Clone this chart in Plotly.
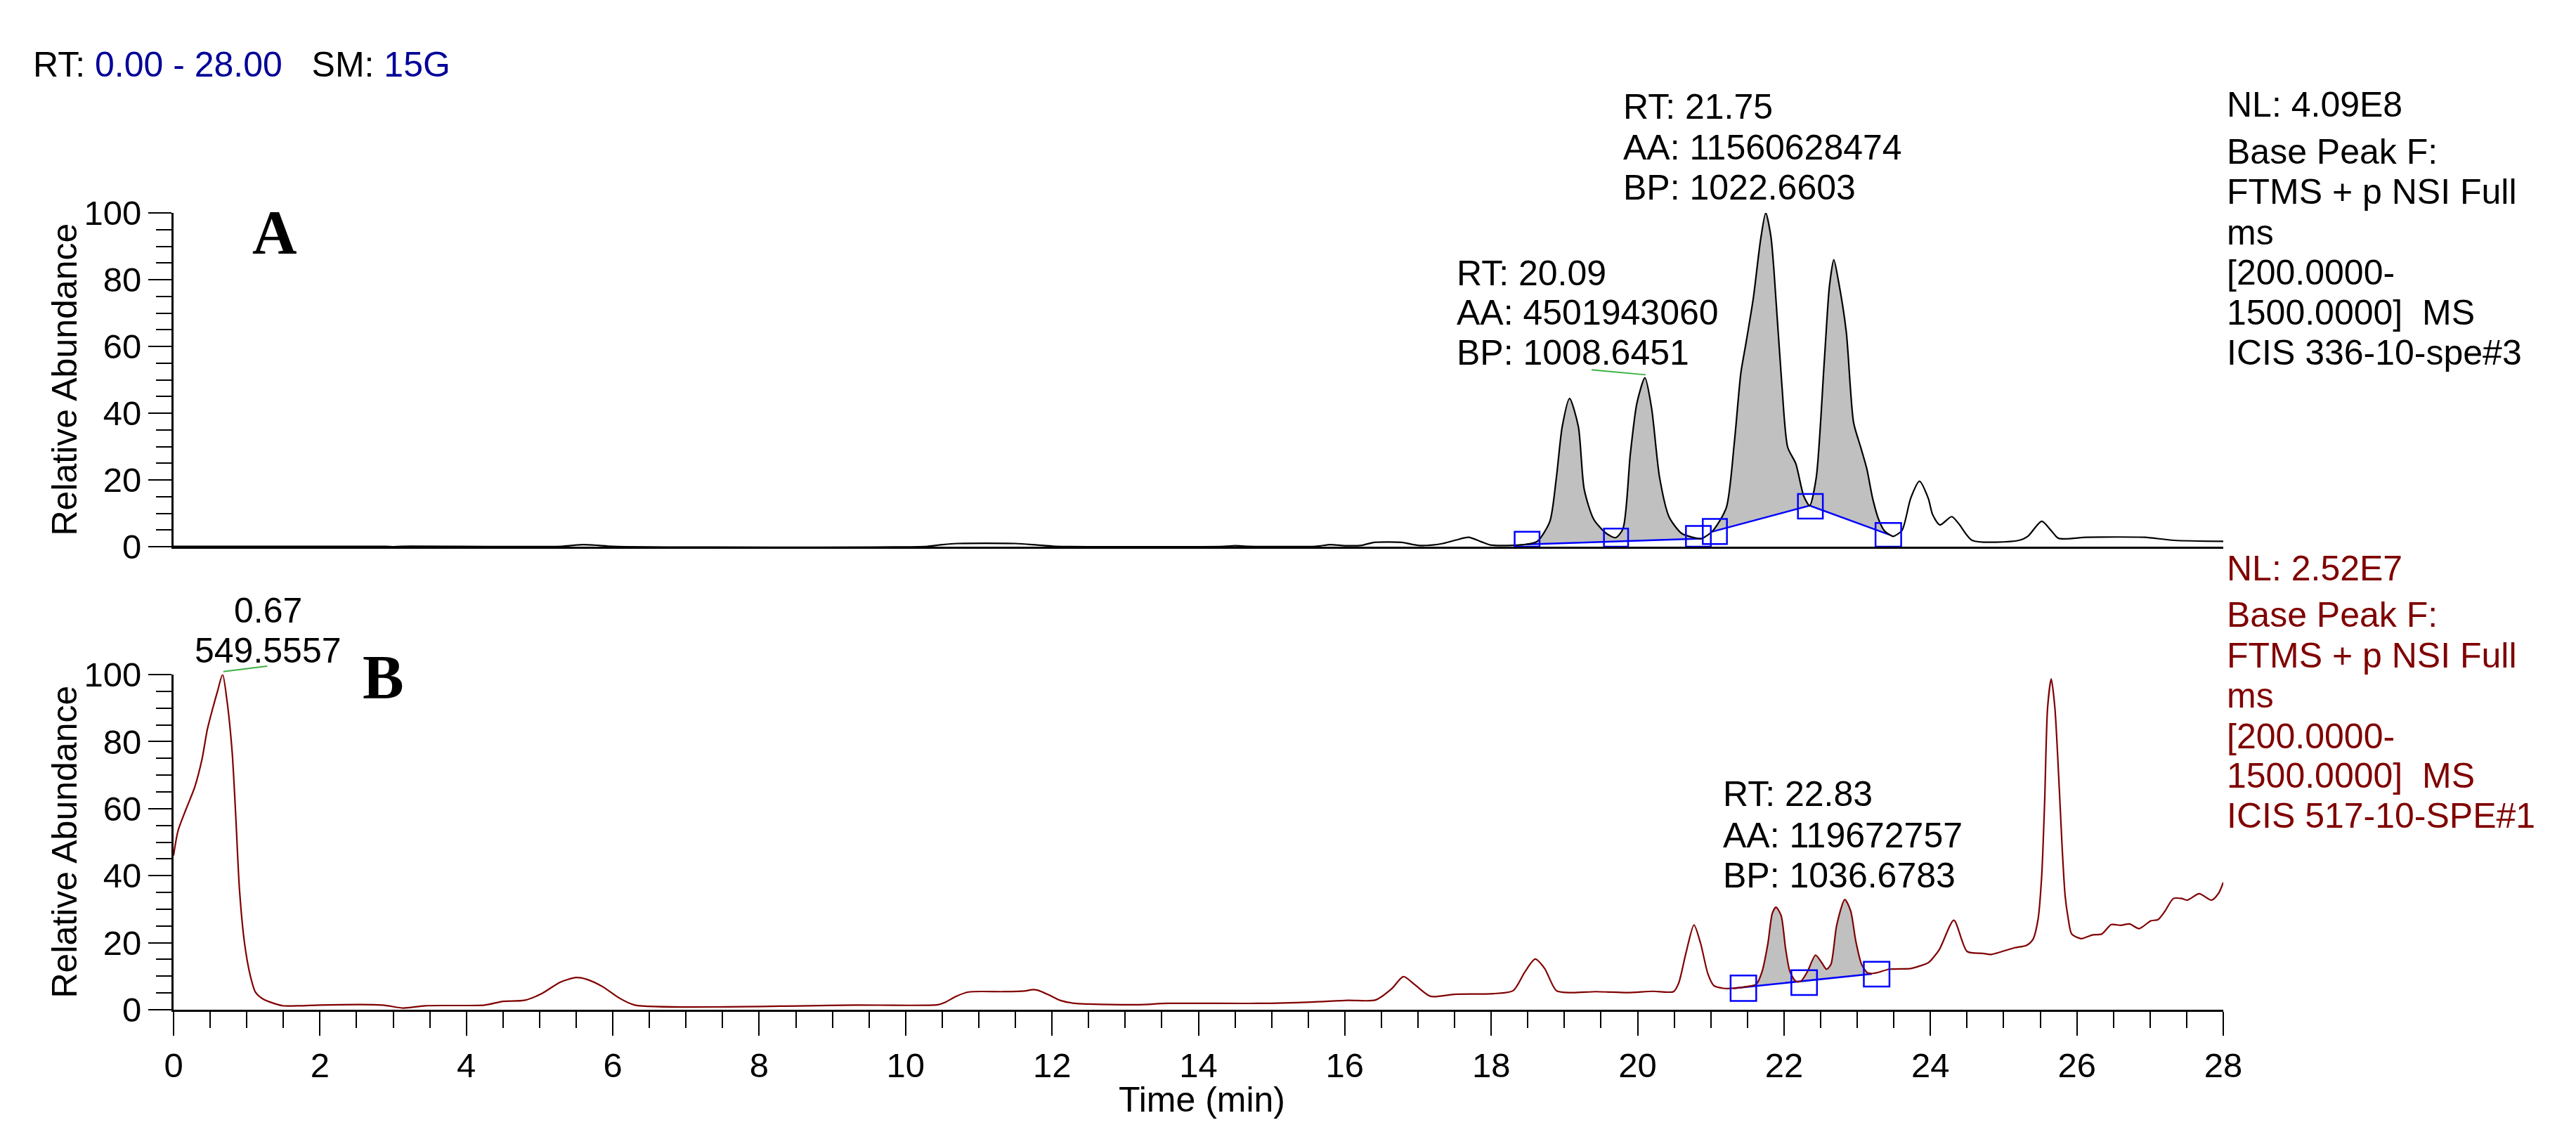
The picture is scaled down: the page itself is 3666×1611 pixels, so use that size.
import numpy as np
import plotly.graph_objects as go

W, H = 3666, 1611

# ---------------- data ----------------
# Panel A: base peak chromatogram, sample 336-10-spe#3 (relative abundance vs time, min)
a_time = [0.0, 2.9, 3.0, 3.1, 5.3, 5.45, 5.6, 5.8, 6.0, 10.3, 10.5, 10.7, 11.5, 11.8, 12.05,
          14.35, 14.5, 14.7, 15.6, 15.8, 16.0, 16.23, 16.4, 16.6, 16.78, 17.0, 17.2, 17.35,
          17.52, 17.69, 17.86, 17.99, 18.29, 18.48, 18.63, 18.80, 18.89, 18.97, 19.07, 19.19,
          19.27, 19.40, 19.57, 19.70, 19.80, 19.90, 19.99, 20.10, 20.19, 20.30, 20.43, 20.60,
          20.77, 20.87, 21.02, 21.21, 21.32, 21.41, 21.48, 21.58, 21.68, 21.75, 21.82, 21.86,
          21.97, 22.05, 22.16, 22.27, 22.35, 22.44, 22.55, 22.62, 22.68, 22.74, 22.85, 22.95,
          23.05, 23.13, 23.21, 23.29, 23.37, 23.45, 23.49, 23.61, 23.73, 23.85, 23.97, 24.03,
          24.13, 24.29, 24.39, 24.57, 25.21, 25.33, 25.52, 25.65, 25.75, 26.13, 26.53, 26.93,
          27.33, 28.0]
a_abund = [0.1, 0.1, 0.0, 0.1, 0.1, 0.4, 0.6, 0.4, 0.1, 0.1, 0.6, 0.95, 0.95, 0.5, 0.1,
           0.1, 0.3, 0.1, 0.1, 0.6, 0.3, 0.4, 1.3, 1.4, 1.3, 0.4, 0.5, 1.0,
           2.0, 2.8, 1.5, 0.5, 0.4, 0.7, 1.6, 7.5, 20.7, 36.0, 44.4, 36.0,
           17.2, 8.2, 4.0, 2.7, 5.4, 27.7, 43.0, 50.6, 41.6, 20.7, 8.9, 4.0,
           2.7, 2.4, 4.6, 11.6, 31.0, 52.0, 61.0, 74.4, 92.0, 100.0, 93.0, 83.5,
           48.6, 29.8, 24.9, 15.1, 12.3, 20.7, 55.6, 78.0, 86.0, 80.0, 64.4, 37.2,
           29.6, 23.4, 14.5, 8.3, 4.8, 3.5, 3.1, 4.8, 14.5, 19.6, 14.5, 9.6,
           6.5, 9.0, 6.8, 1.9, 1.9, 3.1, 7.6, 4.8, 2.5, 2.8, 2.9, 2.8,
           1.9, 1.6]
# integration baselines (time, abundance vertices)
a_base_t = [[18.48, 20.87], [21.02, 22.35, 23.45]]
a_base_v = [[0.7, 2.4], [4.5, 12.3, 3.5]]
# peak boundary boxes: time span and abundance span
a_box_t = [(18.32, 18.66), (19.54, 19.87), (20.66, 21.00), (20.89, 21.22), (22.19, 22.53), (23.25, 23.60)]
a_box_v = [(0.0, 4.5), (0.0, 5.4), (0.0, 6.2), (0.8, 8.3), (8.4, 15.8), (0.0, 7.1)]
a_leader_t = [19.37, 20.11]
a_leader_v = [53.0, 51.5]

# Panel B: base peak chromatogram, sample 517-10-SPE#1
b_time = [0.0, 0.06, 0.17, 0.29, 0.39, 0.46, 0.53, 0.60, 0.67, 0.73, 0.80, 0.85, 0.90, 0.97,
          1.05, 1.12, 1.23, 1.49, 1.74, 2.0, 2.85, 3.14, 3.44, 4.25, 4.5, 4.79, 5.02, 5.28,
          5.50, 5.64, 5.86, 6.08, 6.3, 8.68, 9.31, 10.44, 10.54, 10.69, 10.86, 11.32, 11.62,
          11.74, 11.81, 11.96, 12.11, 12.31, 12.50, 13.19, 13.58, 14.81, 15.54, 16.04, 16.42,
          16.64, 16.80, 16.96, 17.17, 17.49, 18.03, 18.30, 18.46, 18.60, 18.73, 18.89, 19.1,
          19.43, 19.86, 20.21, 20.49, 20.56, 20.66, 20.77, 20.86, 20.96, 21.04, 21.17, 21.31,
          21.49, 21.62, 21.70, 21.78, 21.84, 21.89, 21.96, 22.02, 22.08, 22.16, 22.23, 22.32,
          22.43, 22.51, 22.58, 22.64, 22.72, 22.83, 22.91, 22.98, 23.06, 23.14, 23.20, 23.28,
          23.44, 23.73, 23.86, 23.97, 24.12, 24.32, 24.50, 24.72, 24.83, 25.15, 25.31, 25.40,
          25.47, 25.52, 25.56, 25.60, 25.65, 25.70, 25.76, 25.80, 25.84, 25.88, 25.93, 26.06,
          26.21, 26.34, 26.47, 26.60, 26.72, 26.85, 27.01, 27.11, 27.20, 27.32, 27.43, 27.51,
          27.67, 27.84, 27.94, 28.0]
b_abund = [46.0, 53.3, 59.8, 66.5, 74.9, 83.5, 89.5, 95.0, 100.0, 92.2, 77.0, 57.6, 36.0, 19.8,
           10.0, 5.2, 3.1, 1.2, 1.2, 1.4, 1.4, 0.5, 1.2, 1.4, 2.5, 2.8, 4.7, 8.2,
           9.6, 9.1, 6.9, 3.6, 1.4, 1.2, 1.4, 1.5, 2.2, 4.0, 5.3, 5.4, 5.6,
           6.0, 5.8, 4.4, 2.8, 1.9, 1.7, 1.5, 1.9, 1.9, 2.3, 2.8, 2.9,
           6.25, 9.9, 7.4, 4.0, 4.6, 4.8, 5.7, 11.3, 15.1, 12.3, 5.7, 5.1,
           5.4, 5.1, 5.5, 5.4, 7.9, 16.9, 25.3, 19.8, 10.7, 7.2, 6.4, 6.4,
           6.9, 7.6, 11.4, 19.8, 28.8, 30.6, 28.1, 18.4, 11.4, 8.5, 8.5, 11.4,
           16.3, 14.2, 12.1, 13.5, 25.3, 32.9, 29.5, 20.5, 13.5, 11.0, 10.8, 11.1,
           12.1, 12.3, 13.1, 14.0, 17.9, 26.7, 17.4, 16.8, 16.5, 18.5, 19.2, 21.0,
           27.0, 40.0, 62.0, 90.0, 98.7, 90.0, 66.0, 48.0, 34.0, 27.5, 22.6, 21.2,
           22.3, 22.6, 25.4, 25.2, 25.6, 24.2, 26.5, 26.9, 29.3, 33.2, 33.2, 32.7,
           34.6, 32.7, 34.9, 38.0]
b_base_t = [[21.31, 23.20]]
b_base_v = [[6.4, 10.7]]
b_box_t = [(21.27, 21.62), (22.10, 22.45), (23.09, 23.44)]
b_box_v = [(2.6, 10.2), (4.4, 11.8), (6.9, 14.3)]
b_leader_t = [0.68, 1.28]
b_leader_v = [100.9, 102.5]

x_ticks = [0, 2, 4, 6, 8, 10, 12, 14, 16, 18, 20, 22, 24, 26, 28]
y_ticks = [0, 20, 40, 60, 80, 100]

a_info = ["NL: 4.09E8", "Base Peak F:", "FTMS + p NSI Full", "ms", "[200.0000-",
          "1500.0000]\u00a0\u00a0MS", "ICIS 336-10-spe#3"]
b_info = ["NL: 2.52E7", "Base Peak F:", "FTMS + p NSI Full", "ms", "[200.0000-",
          "1500.0000]\u00a0\u00a0MS", "ICIS 517-10-SPE#1"]
a_peak1_lbl = ["RT: 21.75", "AA: 11560628474", "BP: 1022.6603"]
a_peak2_lbl = ["RT: 20.09", "AA: 4501943060", "BP: 1008.6451"]
b_peak_lbl = ["RT: 22.83", "AA: 119672757", "BP: 1036.6783"]
b_top_lbl = ["0.67", "549.5557"]

# ---------------- layout geometry (pixels) ----------------
X0, X1 = 247, 3164            # x = 0 and x = 28
A_Y0, A_Y100 = 778, 303       # panel A y=0, y=100
B_Y0, B_Y100 = 1437, 960      # panel B
XD = [X0 / W, X1 / W]
YA = [1 - A_Y0 / H, 1 - A_Y100 / H]
YB = [1 - B_Y0 / H, 1 - B_Y100 / H]


def px(x):
    return x / W


def py(y):
    return 1 - y / H


def xp(t):
    return XD[0] + (XD[1] - XD[0]) * t / 28.0


def yp(v, dom):
    return dom[0] + (dom[1] - dom[0]) * v / 100.0


FONT = "Liberation Sans, Arial, sans-serif"
FS = 50
DARKRED = "#800000"
NAVY = "#000099"
BLUE = "#0000FF"
GREEN = "#3CB043"
GRAY = "#C0C0C0"
SMOOTH = 0.7

fig = go.Figure()


def add_panel(t, v, base_t, base_v, color, xa, ya):
    t = np.asarray(t)
    v = np.asarray(v)
    for bt, bv in zip(base_t, base_v):
        m = (t >= bt[0] - 1e-9) & (t <= bt[-1] + 1e-9)
        fig.add_trace(go.Scatter(x=bt, y=bv, mode="lines", line=dict(width=0, color=GRAY),
                                 xaxis=xa, yaxis=ya, showlegend=False, hoverinfo="skip"))
        fig.add_trace(go.Scatter(x=t[m], y=v[m], mode="lines", fill="tonexty", fillcolor=GRAY,
                                 line=dict(width=0, color=GRAY, shape="spline", smoothing=SMOOTH),
                                 xaxis=xa, yaxis=ya, showlegend=False, hoverinfo="skip"))
    for bt, bv in zip(base_t, base_v):
        fig.add_trace(go.Scatter(x=bt, y=bv, mode="lines", line=dict(width=2.5, color=BLUE),
                                 xaxis=xa, yaxis=ya, showlegend=False, hoverinfo="skip"))
    fig.add_trace(go.Scatter(x=t, y=v, mode="lines",
                             line=dict(width=2.2, color=color, shape="spline", smoothing=SMOOTH),
                             xaxis=xa, yaxis=ya, showlegend=False))


add_panel(a_time, a_abund, a_base_t, a_base_v, "black", "x", "y")
add_panel(b_time, b_abund, b_base_t, b_base_v, DARKRED, "x2", "y2")

shapes = []
for (t0, t1), (v0, v1) in zip(a_box_t, a_box_v):
    shapes.append(dict(type="rect", xref="x", yref="y", x0=t0, x1=t1, y0=v0, y1=v1,
                       line=dict(color=BLUE, width=2.5)))
for (t0, t1), (v0, v1) in zip(b_box_t, b_box_v):
    shapes.append(dict(type="rect", xref="x2", yref="y2", x0=t0, x1=t1, y0=v0, y1=v1,
                       line=dict(color=BLUE, width=2.5)))
shapes.append(dict(type="line", xref="paper", yref="paper",
                   x0=xp(a_leader_t[0]), x1=xp(a_leader_t[1]),
                   y0=yp(a_leader_v[0], YA), y1=yp(a_leader_v[1], YA),
                   line=dict(color=GREEN, width=2)))
shapes.append(dict(type="line", xref="paper", yref="paper",
                   x0=xp(b_leader_t[0]), x1=xp(b_leader_t[1]),
                   y0=yp(b_leader_v[0], YB), y1=yp(b_leader_v[1], YB),
                   line=dict(color=GREEN, width=2)))

ann = []


def text(s, x, y, color="black", size=FS, xanchor="left", family=FONT, angle=0):
    ann.append(dict(text=s, x=px(x), y=py(y), xref="paper", yref="paper", showarrow=False,
                    xanchor=xanchor, yanchor="middle", textangle=angle,
                    font=dict(family=family, size=size, color=color)))


# header
text("RT:\u00a0<span style='color:%s'>0.00 - 28.00</span>\u00a0\u00a0\u00a0SM:\u00a0"
     "<span style='color:%s'>15G</span>" % (NAVY, NAVY), 45, 92)

# right-side scan info
a_info_y = [149, 216, 273, 331, 388, 445, 502]
b_info_y = [809, 875, 933, 990, 1048, 1104, 1161]
for s, y in zip(a_info, a_info_y):
    text(s, 3167, y)
for s, y in zip(b_info, b_info_y):
    text(s, 3167, y, color=DARKRED)

# peak labels
for s, y in zip(a_peak1_lbl, [152, 210, 267]):
    text(s, 2308, y)
for s, y in zip(a_peak2_lbl, [389, 445, 502]):
    text(s, 2071, y)
for s, y in zip(b_peak_lbl, [1130, 1189, 1246]):
    text(s, 2450, y)
for s, y in zip(b_top_lbl, [869, 926]):
    text(s, 381, y, xanchor="center")

# panel letters
text("<b>A</b>", 391, 331, size=88, xanchor="center", family="Liberation Serif, Times New Roman, serif")
text("<b>B</b>", 545, 963, size=88, xanchor="center", family="Liberation Serif, Times New Roman, serif")

# axis titles
text("Relative Abundance", 91, (A_Y0 + A_Y100) / 2, xanchor="center", angle=-90)
text("Relative Abundance", 91, (B_Y0 + B_Y100) / 2, xanchor="center", angle=-90)
text("Time (min)", 1710, 1565, xanchor="center")

yaxis_common = dict(range=[0, 100], tickvals=y_ticks, ticks="outside", ticklen=33, tickwidth=2,
                    tickcolor="black", showline=True, linewidth=3, linecolor="black",
                    showgrid=False, zeroline=False, fixedrange=True, automargin=False,
                    tickfont=dict(family=FONT, size=49, color="black"),
                    minor=dict(dtick=5, tick0=0, ticks="outside", ticklen=22, tickwidth=2,
                               tickcolor="black", showgrid=False))

fig.update_layout(
    template="none",
    width=W, height=H, margin=dict(l=0, r=0, t=0, b=0, pad=0), autosize=False,
    paper_bgcolor="white", plot_bgcolor="white", showlegend=False,
    xaxis=dict(domain=XD, range=[0, 28], anchor="y", showticklabels=False, ticks="",
               showline=True, linewidth=3, linecolor="black", showgrid=False, zeroline=False,
               automargin=False),
    yaxis=dict(domain=YA, anchor="x", **yaxis_common),
    xaxis2=dict(domain=XD, range=[0, 28], anchor="y2", tickvals=x_ticks, ticks="outside",
                ticklen=34, tickwidth=2, tickcolor="black", showline=True, linewidth=3,
                linecolor="black", showgrid=False, zeroline=False, automargin=False,
                tickfont=dict(family=FONT, size=49, color="black"),
                minor=dict(dtick=0.5, tick0=0, ticks="outside", ticklen=23, tickwidth=2,
                           tickcolor="black", showgrid=False)),
    yaxis2=dict(domain=YB, anchor="x2", **yaxis_common),
    shapes=shapes, annotations=ann,
)

fig.write_html(
    "out.html",
    config={"displayModeBar": False},
    post_script=("document.documentElement.style.margin='0';"
                 "document.documentElement.style.overflow='hidden';"
                 "document.body.style.margin='0';"
                 "document.body.style.overflow='hidden';"),
)
